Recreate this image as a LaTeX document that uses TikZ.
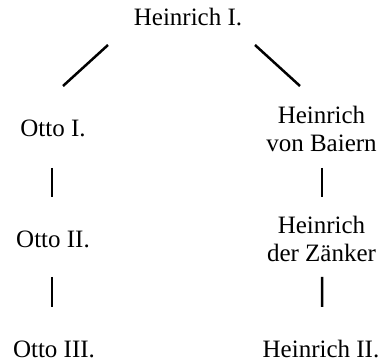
\documentclass[tikz,border=0pt]{standalone}
\usepackage{fontspec}
\setmainfont{Liberation Serif}
\usetikzlibrary{calc}
\begin{document}
\begin{tikzpicture}[x=1bp,y=1bp,
  person/.style={inner sep=0pt, align=center, font=\fontsize{25bp}{28bp}\selectfont},
  conn/.style={line width=2.5bp, black}]
\useasboundingbox (0,0) rectangle (382,362);
% centres (image y -> tikz y = 362 - y)
\node[person] (h1) at (188,344.5) {Heinrich I.};
\node[person] (o1) at (53,233.5) {Otto I.};
\node[person] (hb) at (321.5,233.5) {Heinrich\\von Baiern};
\node[person] (o2) at (53,123) {Otto II.};
\node[person] (hz) at (321.5,123) {Heinrich\\der Zänker};
\node[person] (o3) at (54,12.5) {Otto III.};
\node[person] (h2) at (321,12.5) {Heinrich II.};
% connectors
\draw[conn] ($(h1)+(-80,-27.5)$) -- ($(o1)+(10,42.5)$);
\draw[conn] ($(h1)+(67,-27.5)$) -- ($(hb)+(-21.5,42.5)$);
\draw[conn] ($(o1)+(-1,-39.5)$) -- ($(o2)+(-1,42)$);
\draw[conn] ($(o2)+(-1,-38)$) -- ($(o3)+(-2,42.5)$);
\draw[conn] ($(hb)+(0.5,-39.5)$) -- ($(hz)+(0.5,42)$);
\draw[conn] ($(hz)+(0.5,-38)$) -- ($(h2)+(1,42.5)$);
\end{tikzpicture}
\end{document}
